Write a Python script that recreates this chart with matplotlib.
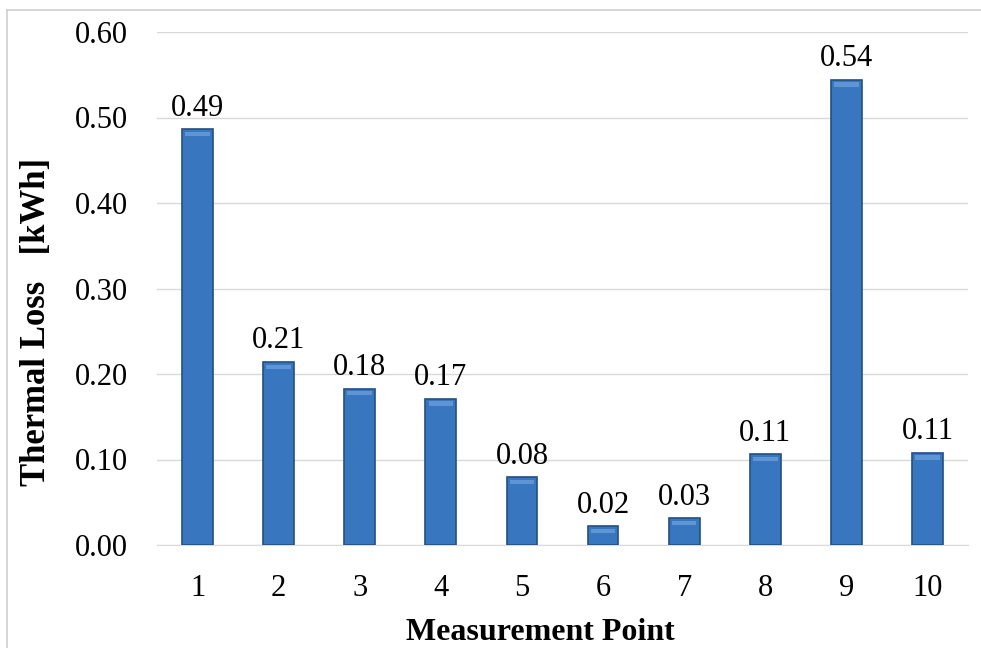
import matplotlib
matplotlib.use("Agg")
import matplotlib.pyplot as plt
from matplotlib.lines import Line2D

categories = ["1", "2", "3", "4", "5", "6", "7", "8", "9", "10"]
values = [0.486, 0.214, 0.183, 0.171, 0.079, 0.022, 0.031, 0.106, 0.544, 0.108]
yticks = [0.0, 0.1, 0.2, 0.3, 0.4, 0.5, 0.6]

plt.rcParams['font.family'] = ['Liberation Serif', 'DejaVu Serif']

fig = plt.figure(figsize=(9.81, 6.48), dpi=100)
ax = fig.add_axes([157/981, 1-545/648, (968-157)/981, (545-32)/648])

x = list(range(len(categories)))
bars = ax.bar(x, values, width=0.38, color='#3877C0', edgecolor='#24507F', linewidth=1.2, zorder=3)
# top highlight for bevel look
for b in bars:
    ax.bar(b.get_x() + b.get_width()/2, 0.005, bottom=b.get_height()-0.008,
           width=b.get_width()*0.8, color='#5E95D4', linewidth=0, zorder=4)

for xi, v in zip(x, values):
    ax.text(xi, v + 0.016, f"{v:.2f}", ha='center', va='baseline', fontsize=22, zorder=5)

ax.set_xlim(-0.5, len(categories) - 0.5)
ax.set_ylim(0, 0.6)
ax.set_yticks(yticks)
ax.set_yticklabels([f"{t:.2f}" for t in yticks], fontsize=22)
ax.set_xticks(x)
ax.set_xticklabels(categories, fontsize=22)
ax.tick_params(axis='both', length=0)
ax.tick_params(axis='y', pad=21)
ax.tick_params(axis='x', pad=21)
ax.grid(axis='y', color='#D9D9D9', linewidth=1, zorder=0)
for s in ['left', 'right', 'top']:
    ax.spines[s].set_visible(False)
ax.spines['bottom'].set_color('#D9D9D9')

ax.set_ylabel("Thermal Loss   [kWh]", fontsize=25, fontweight='bold', va='center', ha='center')
ax.yaxis.set_label_coords((37-157)/811, (545-321.5)/513)
ax.set_xlabel("Measurement Point", fontsize=23, fontweight='bold', va='center', ha='center')
ax.xaxis.set_label_coords((540-157)/811, (545-633)/513)

# outer chart border
fig.add_artist(Line2D([7/981, 7/981], [0, 1-10/648], color='#D0D0D0', linewidth=1.2, transform=fig.transFigure))
fig.add_artist(Line2D([7/981, 1], [1-10/648, 1-10/648], color='#D0D0D0', linewidth=1.2, transform=fig.transFigure))

fig.savefig("out.png", dpi=100)
